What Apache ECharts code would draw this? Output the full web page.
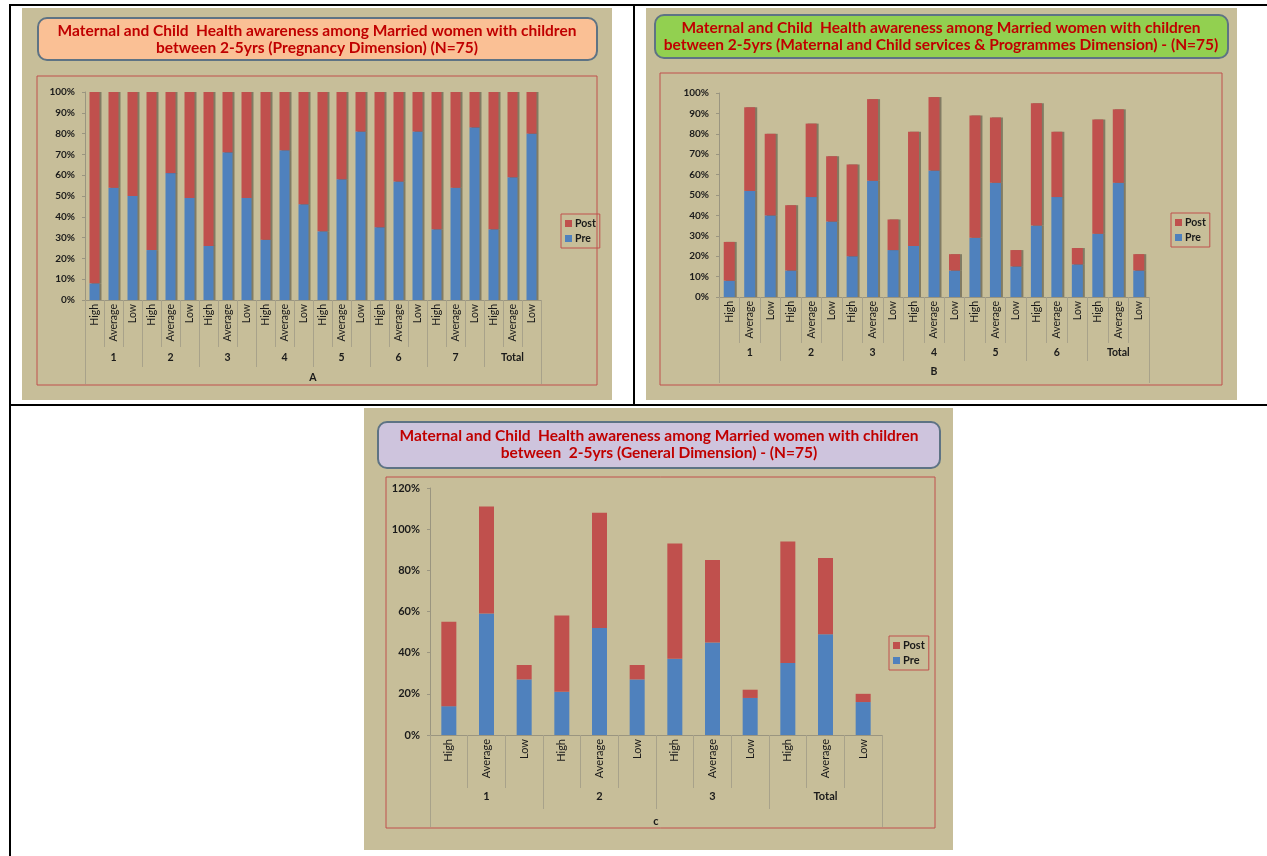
<!DOCTYPE html>
<html><head><meta charset="utf-8">
<script src="https://cdn.jsdelivr.net/npm/echarts@6/dist/echarts.min.js"></script>
<style>html,body{margin:0;padding:0;background:#fff}#c{width:1267px;height:856px}</style>
</head><body><div id="c"></div>
<script>
// ---------- data ----------
const levels = ['High', 'Average', 'Low'];
const groupsA = ['1', '2', '3', '4', '5', '6', '7', 'Total'];
const groupsB = ['1', '2', '3', '4', '5', '6', 'Total'];
const groupsC = ['1', '2', '3', 'Total'];
const topA = ['A'];
const topB = ['B'];
const topC = ['c'];

const preA  = [8, 54, 50, 24, 61, 49, 26, 71, 49, 29, 72, 46, 33, 58, 81, 35, 57, 81, 34, 54, 83, 34, 59, 80];
const postA = [92, 46, 50, 76, 39, 51, 74, 29, 51, 71, 28, 54, 67, 42, 19, 65, 43, 19, 66, 46, 17, 66, 41, 20];

const preB  = [8, 52, 40, 13, 49, 37, 20, 57, 23, 25, 62, 13, 29, 56, 15, 35, 49, 16, 31, 56, 13];
const postB = [19, 41, 40, 32, 36, 32, 45, 40, 15, 56, 36, 8, 60, 32, 8, 60, 32, 8, 56, 36, 8];

const preC  = [14, 59, 27, 21, 52, 27, 37, 45, 18, 35, 49, 16];
const postC = [41, 52, 7, 37, 56, 7, 56, 40, 4, 59, 37, 4];

const titleA = 'Maternal and Child  Health awareness among Married women with children\nbetween 2-5yrs (Pregnancy Dimension) (N=75)';
const titleB = 'Maternal and Child  Health awareness among Married women with children\nbetween 2-5yrs (Maternal and Child services & Programmes Dimension) - (N=75)';
const titleC = 'Maternal and Child  Health awareness among Married women with children\nbetween  2-5yrs (General Dimension) - (N=75)';

// ---------- styles ----------
const FONT = 'Lato, "DejaVu Sans", sans-serif';
const TAN = '#C7BE99';
const BLUE = '#4F81BD';
const RED = '#C0504D';
const BOXRED = '#C0504D';
const TXT = '#1a1a1a';
const catsOf = groups => groups.flatMap(() => levels);

function panelAxes(gi, groups, top, cfg) {
  const x1 = {
    type: 'category', gridIndex: gi, data: catsOf(groups), position: 'bottom',
    axisLine: { show: true, lineStyle: { color: '#9a9580', width: 1 } },
    axisTick: { show: true, length: cfg.tick1, lineStyle: { color: '#a8a28a' } },
    axisLabel: { interval: 0, rotate: 90, margin: 4, fontSize: cfg.catFs, color: TXT, fontFamily: FONT }
  };
  const x2 = {
    type: 'category', gridIndex: gi, data: groups, position: 'bottom',
    axisLine: { show: false },
    axisTick: { show: true, length: cfg.tick2, lineStyle: { color: '#a8a28a' } },
    axisLabel: { interval: 0, margin: cfg.grpMargin, fontSize: cfg.grpFs, fontWeight: 'bold', color: TXT, fontFamily: FONT }
  };
  const x3 = {
    type: 'category', gridIndex: gi, data: top, position: 'bottom',
    axisLine: { show: false },
    axisTick: { show: true, length: cfg.tick3, lineStyle: { color: '#a8a28a' } },
    axisLabel: { interval: 0, margin: cfg.topMargin, fontSize: cfg.grpFs, fontWeight: 'bold', color: TXT, fontFamily: FONT }
  };
  const y = {
    type: 'value', gridIndex: gi, min: 0, max: cfg.max, interval: cfg.interval,
    splitLine: { show: false },
    axisLine: { show: true, lineStyle: { color: '#9a9580' } },
    axisTick: { show: true, length: 3, lineStyle: { color: '#9a9580' } },
    axisLabel: { formatter: '{value}%', fontSize: cfg.yFs, fontWeight: 'bold', color: TXT, margin: 10, fontFamily: FONT }
  };
  return [x1, x2, x3, y];
}

const aA = panelAxes(0, groupsA, topA, { tick1: 47, tick2: 67, tick3: 84, catFs: 10.5, grpFs: 10.5, grpMargin: 52, topMargin: 72, max: 100, interval: 10, yFs: 10 });
const aB = panelAxes(1, groupsB, topB, { tick1: 46, tick2: 64, tick3: 86, catFs: 10.5, grpFs: 10.5, grpMargin: 50, topMargin: 69, max: 100, interval: 10, yFs: 10 });
const aC = panelAxes(2, groupsC, topC, { tick1: 53, tick2: 74, tick3: 92, catFs: 11, grpFs: 11, grpMargin: 56, topMargin: 81, max: 120, interval: 20, yFs: 11 });

const shadow3d = { shadowColor: 'rgba(0,0,0,0.35)', shadowOffsetX: 2, shadowOffsetY: 0, shadowBlur: 0 };

function barSeries(name, data, gi, color, width, is3d) {
  return {
    type: 'bar', name, data, stack: 's' + gi, xAxisIndex: gi * 3, yAxisIndex: gi,
    barWidth: width, itemStyle: Object.assign({ color }, is3d ? shadow3d : {}),
    emphasis: { disabled: true }
  };
}

function titleOpt(text, cx, top) {
  return {
    text, left: cx, top, textAlign: 'center', textVerticalAlign: 'top', padding: 0,
    textStyle: { fontFamily: FONT, fontSize: 15.5, fontWeight: 'bold', color: '#C00000', lineHeight: 17 }
  };
}

function legendOpt(left, top, fs) {
  return {
    data: ['Post', 'Pre'], orient: 'vertical', left, top, icon: 'rect',
    itemWidth: 7, itemHeight: 7, itemGap: 4, padding: [4, 4, 4, 4],
    borderColor: BOXRED, borderWidth: 1,
    textStyle: { fontFamily: FONT, fontSize: fs, fontWeight: 'bold', color: TXT, padding: [0, 0, 0, -2] },
    selectedMode: false
  };
}

const rect = (x, y, w, h, style, z, r) => ({ type: 'rect', shape: { x, y, width: w, height: h, r: r || 0 }, style, z, silent: true });
const line = (x1, y1, x2, y2) => ({ type: 'line', shape: { x1, y1, x2, y2 }, style: { stroke: '#000', lineWidth: 2 }, z: -5, silent: true });

const chart = echarts.init(document.getElementById('c'), null, { renderer: 'canvas' });
chart.setOption({
  backgroundColor: '#fff',
  animation: false,
  graphic: [
    rect(22, 8, 590, 392, { fill: TAN }, -10),
    rect(646, 8, 591, 392, { fill: TAN }, -10),
    rect(364, 408, 589, 442, { fill: TAN }, -10),
    line(9, 5, 1267, 5),
    line(10, 5, 10, 856),
    line(634, 5, 634, 405),
    line(9, 405, 1267, 405),
    rect(37, 76, 560, 309, { fill: 'none', stroke: BOXRED, lineWidth: 1 }, -4),
    rect(660, 73, 562, 312, { fill: 'none', stroke: BOXRED, lineWidth: 1 }, -4),
    rect(386, 477, 549, 351, { fill: 'none', stroke: BOXRED, lineWidth: 1 }, -4),
    rect(38, 18, 559, 42, { fill: '#FAC095', stroke: '#5E7384', lineWidth: 2 }, -4, 9),
    rect(655, 15, 573, 43, { fill: '#92D050', stroke: '#5E7384', lineWidth: 2 }, -4, 9),
    rect(378, 422, 562, 46, { fill: '#CEC4DD', stroke: '#5E7384', lineWidth: 2 }, -4, 9)
  ],
  title: [
    titleOpt(titleA, 317, 22),
    titleOpt(titleB, 941, 19),
    titleOpt(titleC, 659, 427)
  ],
  legend: [legendOpt(561, 214, 10.5), legendOpt(1171, 213, 10.5), legendOpt(889, 636, 11)],
  grid: [
    { left: 85, top: 92, width: 456, height: 208 },
    { left: 719, top: 93, width: 430, height: 204 },
    { left: 430, top: 488, width: 452, height: 247 }
  ],
  xAxis: [aA[0], aA[1], aA[2], aB[0], aB[1], aB[2], aC[0], aC[1], aC[2]],
  yAxis: [aA[3], aB[3], aC[3]],
  series: [
    barSeries('Pre', preA, 0, BLUE, 10, true),
    barSeries('Post', postA, 0, RED, 10, true),
    barSeries('Pre', preB, 1, BLUE, 11, true),
    barSeries('Post', postB, 1, RED, 11, true),
    barSeries('Pre', preC, 2, BLUE, 15, false),
    barSeries('Post', postC, 2, RED, 15, false)
  ]
});
</script>
</body></html>
